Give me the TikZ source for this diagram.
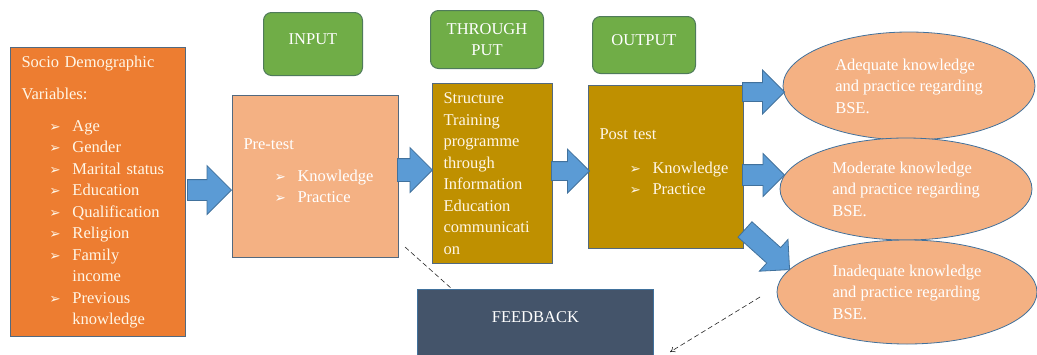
\documentclass[tikz,border=0pt]{standalone}
\usepackage{fontspec}
\setmainfont{Liberation Serif}
\newfontfamily\symfont{DejaVu Sans}
\usepackage{tikz}
\usetikzlibrary{shapes.geometric,shapes.arrows,arrows.meta}
\definecolor{sociofill}{HTML}{ED7D31}
\definecolor{salmon}{HTML}{F4B183}
\definecolor{gold}{HTML}{BF9000}
\definecolor{stagegreen}{HTML}{70AD47}
\definecolor{stageline}{HTML}{4F7B5A}
\definecolor{arrblue}{HTML}{5B9BD5}
\definecolor{arrline}{HTML}{41719C}
\definecolor{boxline}{HTML}{52697F}
\definecolor{fbfill}{HTML}{44546A}
\definecolor{cream}{HTML}{FFF6E6}
\newcommand\tick{{\symfont\fontsize{13.5}{13.5}\selectfont\char"27A2}}
\newcommand\itm[2][28pt]{\hspace*{#1}\makebox[23pt][l]{\tick}#2}
\tikzset{
    base/.style={font=\fontsize{16.5}{21.5}\selectfont, text=white, inner sep=0pt},
    box/.style={base, rectangle, draw=boxline, line width=1pt, anchor=north west, align=left, inner xsep=11pt},
    stage/.style={base, rectangle, rounded corners=8pt, draw=stageline, line width=1pt, fill=stagegreen, anchor=north west, align=center},
    result/.style={base, ellipse, draw=arrline, line width=0.8pt, fill=salmon, align=left},
    barrow/.style={single arrow, fill=arrblue, draw=arrline, line width=0.8pt, inner xsep=0pt, anchor=tip},
    fbline/.style={dashed, dash pattern=on 5pt off 3pt, gray!30!black, line width=0.6pt}
}

\begin{document}
\begin{tikzpicture}[x=1pt,y=-1pt]
    \useasboundingbox (0,0) rectangle (1037,354);
    \clip (0,0) rectangle (1037,354);

    \node[stage, minimum width=99, minimum height=63, text height=12pt, text depth=11pt] (input) at (263,12) {INPUT};
    \node[stage, minimum width=113, minimum height=58] (through) at (430,10) {THROUGH\\PUT};
    \node[stage, minimum width=103, minimum height=57, text height=12pt, text depth=11pt] (output) at (592,16) {OUTPUT};

    \node[box, fill=sociofill, text=cream, minimum width=175, minimum height=289, text width=153] (socio) at (10,47) {Socio Demographic\\[11pt]
        Variables:\\[10pt]
        \itm{Age}\\
        \itm{Gender}\\
        \itm{Marital status}\\
        \itm{Education}\\
        \itm{Qualification}\\
        \itm{Religion}\\
        \itm{Family}\\
        \hspace*{51pt}income\\
        \itm{Previous}\\
        \hspace*{51pt}knowledge};
    \node[box, fill=salmon, minimum width=166, minimum height=162, text width=144] (pre) at (232,95) {Pre-test\\[10pt]
        \itm[31pt]{Knowledge}\\
        \itm[31pt]{Practice}\\[-10pt]\mbox{}};
    \node[box, fill=gold, text=cream, minimum width=120, minimum height=180, text width=98] (train) at (432,83) {Structure\\Training\\programme\\through\\Information\\Education\\communicati\\on};
    \node[box, fill=gold, text=cream, minimum width=155, minimum height=163, text width=133] (post) at (588,85) {Post test\\[12pt]
        \itm[30pt]{Knowledge}\\
        \itm[30pt]{Practice}\\[-11pt]\mbox{}};

    \node[result, minimum width=252, minimum height=108] (adequate) at (909,86) {Adequate knowledge\\and practice regarding\\BSE.};
    \node[result, minimum width=252, minimum height=102] (moderate) at (906,189) {Moderate knowledge\\and practice regarding\\BSE.};
    \node[result, minimum width=260, minimum height=104] (inadequate) at (907,292) {Inadequate knowledge\\and practice regarding\\BSE.};

    \node[base, rectangle, fill=fbfill, draw=arrline, line width=0.8pt, anchor=north west, minimum width=236, minimum height=100, text height=12pt, text depth=45pt] (feedback) at (417,289) {FEEDBACK};

    \node[barrow, minimum height=44, inner ysep=10pt, single arrow head extend=14] (a1) at (232,190) {};
    \node[barrow, minimum height=35, inner ysep=11pt, single arrow head extend=11] (a2) at (433,170) {};
    \node[barrow, minimum height=38, inner ysep=9pt, single arrow head extend=12.5] (a3) at (590,171) {};
    \node[barrow, minimum height=42, inner ysep=9pt, single arrow head extend=12.5] (a4) at (785,92) {};
    \node[barrow, minimum height=42, inner ysep=10pt, single arrow head extend=11] (a5) at (785,175) {};
    \node[barrow, minimum height=60, inner ysep=10pt, single arrow head extend=11, rotate=-42] (a6) at (790,270) {};

    \coordinate (fbstart) at (405,247);
    \coordinate (fbtop) at (452,289);
    \coordinate (fbback) at (760,297);
    \coordinate (fbend) at (670,352);
    \draw[fbline] (fbstart) -- (fbtop);
    \draw[fbline, -{To[length=5pt,width=6pt]}] (fbback) -- (fbend);
\end{tikzpicture}
\end{document}
